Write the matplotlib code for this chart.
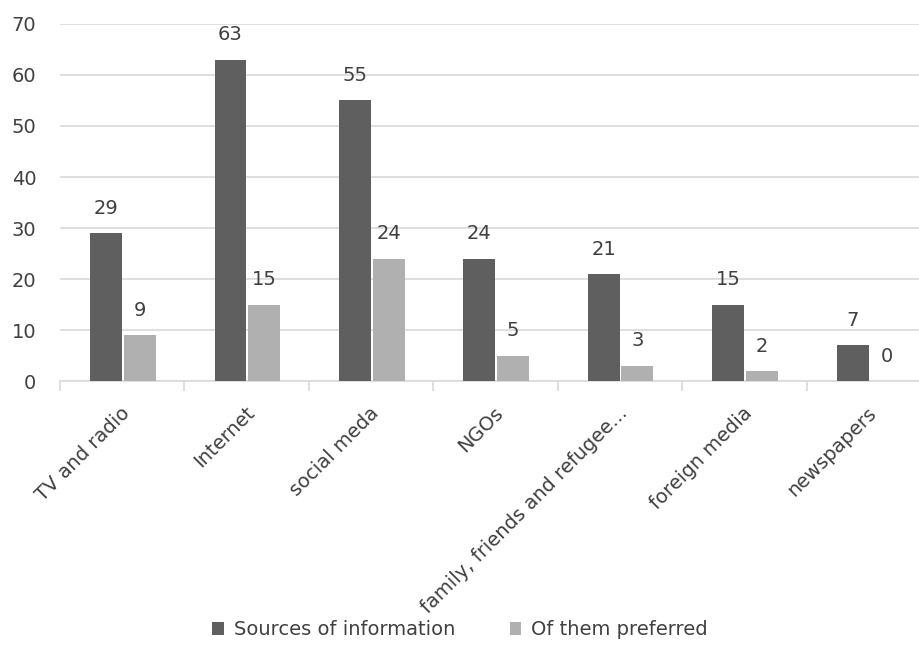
import matplotlib.pyplot as plt
import matplotlib.transforms as mtransforms
import numpy as np

categories = ["TV and radio", "Internet", "social meda", "NGOs",
              "family, friends and refugee...", "foreign media", "newspapers"]
sources = [29, 63, 55, 24, 21, 15, 7]
preferred = [9, 15, 24, 5, 3, 2, 0]

dark = "#5f5f5f"
light = "#b0b0b0"
txt = "#404040"
fs = 14

plt.rcParams["font.family"] = ["DejaVu Sans"]

fig = plt.figure(figsize=(9.2, 6.47), dpi=100)
ax = fig.add_axes([0.0652, 0.411, 0.9348, 0.552])

x = np.arange(len(categories))
w = 0.257
b1 = ax.bar(x - 0.13, sources, w, color=dark, label="Sources of information", zorder=3)
b2 = ax.bar(x + 0.14, preferred, w, color=light, label="Of them preferred", zorder=3)

for bars, vals in ((b1, sources), (b2, preferred)):
    for r, v in zip(bars, vals):
        ax.annotate(str(v), (r.get_x() + r.get_width() / 2, v),
                    xytext=(0, 11), textcoords="offset points",
                    ha="center", va="bottom", fontsize=fs, color=txt)

# category separators as minor ticks
ax.set_xticks(np.arange(-0.5, 7, 1), minor=True)
ax.set_xticks(x)
ax.set_xticklabels(categories, rotation=45, ha="right", rotation_mode="anchor",
                   fontsize=fs, color=txt)
ax.tick_params(axis="x", which="major", length=0, pad=16)
ax.tick_params(axis="x", which="minor", length=7, color="#d9d9d9", width=1.2)
shift = mtransforms.ScaledTranslation(-0.02, 0, fig.dpi_scale_trans)
for lab in ax.get_xticklabels():
    lab.set_transform(lab.get_transform() + shift)

ax.set_ylim(0, 70)
ax.set_xlim(-0.5, 6.41)
ax.set_yticks(range(0, 71, 10))
ax.yaxis.grid(True, color="#d9d9d9", linewidth=1.2, zorder=0)
ax.tick_params(axis="y", length=0, pad=17, labelsize=fs, labelcolor=txt)

for s in ("top", "right", "left"):
    ax.spines[s].set_visible(False)
ax.spines["bottom"].set_color("#d9d9d9")
ax.spines["bottom"].set_linewidth(1.2)
ax.set_axisbelow(True)

fig.legend(handles=[b1, b2], loc="lower center", bbox_to_anchor=(0.5, -0.015),
           ncol=2, frameon=False, fontsize=fs, labelcolor=txt,
           handlelength=0.6, handleheight=0.6, columnspacing=2.8, handletextpad=0.5)

fig.savefig("out.png", dpi=100)
